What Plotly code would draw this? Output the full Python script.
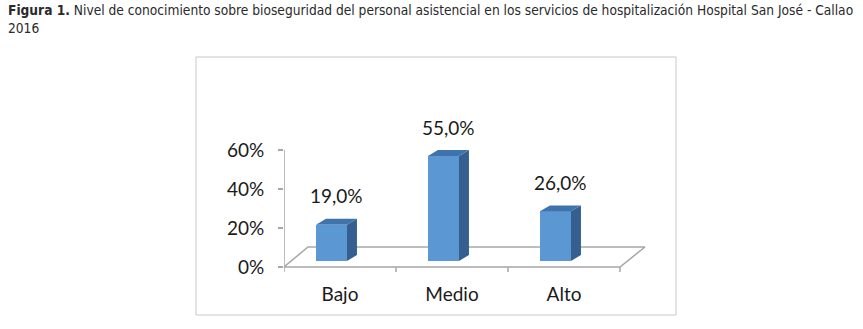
import plotly.graph_objects as go

categories = ["Bajo", "Medio", "Alto"]
values = [0.19, 0.55, 0.26]
y_ticks = [0, 0.2, 0.4, 0.6]
title_text = ("<b>Figura 1.</b> Nivel de conocimiento sobre bioseguridad del personal asistencial "
              "en los servicios de hospitalización Hospital San José - Callao<br>2016")

FRONT = "#5b97d3"
SIDE = "#345f8e"
TOP = "#3f73ab"
GRID = "#a6a6a6"
TXT = "#1a1a1a"
FONT = "Lato"

bar_w = 0.277   # bar width in category units
dx = 0.089      # depth offset (x)
dy = 0.031      # depth offset (y)

FW, FH = 863, 329
PL, PR, PT, PB = 284, 650, 100, 280   # plot area in figure px
W = PR - PL
H = PB - PT

fig = go.Figure()

# floor / axis frame (on base axes x/y)
fx, fy = [], []
fx += [-0.5, -0.5, None]; fy += [0.6, 0, None]
fx += [-0.5, 2.5, 2.723, -0.286, -0.5, None]; fy += [0, 0, 0.1026, 0.1026, 0, None]
for b in [-0.5, 0.5, 1.5, 2.5]:
    fx += [b, b, None]; fy += [0, -0.026, None]
fig.add_trace(go.Scatter(x=fx, y=fy, mode="lines", line=dict(color=GRID, width=1.5),
                         hoverinfo="skip", showlegend=False, xaxis="x", yaxis="y"))

xs = list(range(len(categories)))
fig.add_trace(go.Bar(x=xs, y=values, width=bar_w, marker=dict(color=FRONT, line=dict(width=0)),
                     hoverinfo="skip", showlegend=False, xaxis="x2", yaxis="y2"))

for i, v in zip(xs, values):
    l, r = i - bar_w / 2, i + bar_w / 2
    fig.add_trace(go.Scatter(x=[r, r + dx, r + dx, r, r], y=[0, dy, v + dy, v, 0],
                             fill="toself", fillcolor=SIDE, mode="lines", line=dict(width=0, color=SIDE),
                             hoverinfo="skip", showlegend=False, xaxis="x2", yaxis="y2"))
    fig.add_trace(go.Scatter(x=[l, l + dx, r + dx, r, l], y=[v, v + dy, v + dy, v, v],
                             fill="toself", fillcolor=TOP, mode="lines", line=dict(width=0, color=TOP),
                             hoverinfo="skip", showlegend=False, xaxis="x2", yaxis="y2"))
    fig.add_annotation(x=i + 0.045, y=v + dy, xref="x2", yref="y2",
                       text=f"{v*100:.1f}%".replace(".", ","), showarrow=False,
                       yanchor="middle", yshift=23, font=dict(family=FONT, size=19, color=TXT))

fig.add_annotation(x=(6 - PL) / W, y=(PB - 0) / H, xref="paper", yref="paper",
                   text=title_text, showarrow=False, xanchor="left", yanchor="top", align="left",
                   font=dict(family="DejaVu Sans Condensed", size=13.65, color="#2a2a2a"))

fig.add_shape(type="rect", xref="paper", yref="paper",
              x0=(196 - PL) / W, x1=(676 - PL) / W,
              y0=(PB - 315) / H, y1=(PB - 57) / H,
              line=dict(color="#c8c8c8", width=1))

fig.update_layout(
    width=FW, height=FH,
    margin=dict(l=PL, r=FW - PR, t=PT, b=FH - PB),
    paper_bgcolor="white", plot_bgcolor="white",
    xaxis=dict(range=[-0.5, 2.768], tickvals=xs, ticktext=categories, showgrid=False,
               zeroline=False, showline=False, ticks="", ticklabelstandoff=1,
               tickfont=dict(family=FONT, size=19, color=TXT)),
    yaxis=dict(range=[-0.0667, 0.856], tickvals=y_ticks, tickformat=".0%", showgrid=False,
               zeroline=False, showline=False, ticks="outside", ticklen=5, tickcolor=GRID,
               tickwidth=1.5, ticklabelstandoff=10, tickfont=dict(family=FONT, size=19, color=TXT)),
    xaxis2=dict(overlaying="x", range=[-0.424, 2.844], visible=False, anchor="y2"),
    yaxis2=dict(overlaying="y", range=[-0.0995, 0.843], visible=False, anchor="x2"),
    bargap=0,
)

fig.write_html("out.html", config={"displayModeBar": False},
               post_script="document.body.style.margin='0';")
